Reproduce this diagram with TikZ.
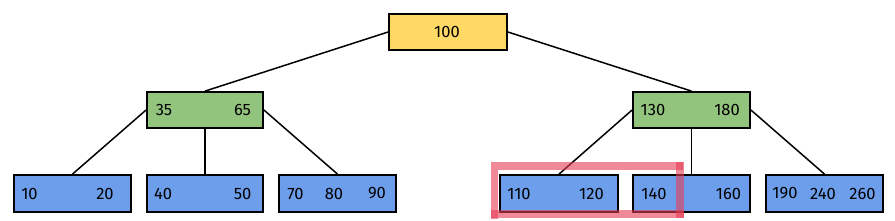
\documentclass[tikz,border=0pt]{standalone}
\usepackage{fontspec}
\setmainfont{Fira Sans}
\begin{document}
\begin{tikzpicture}[x=1pt,y=-1pt,
  box/.style={draw=black,line width=1.8pt,minimum height=36pt,inner sep=0pt},
  rootbox/.style={box,fill={rgb,255:red,255;green,217;blue,102},minimum width=118pt},
  midbox/.style={box,fill={rgb,255:red,147;green,196;blue,125},minimum width=116pt},
  leafbox/.style={box,fill={rgb,255:red,109;green,158;blue,235},minimum width=117pt,minimum height=37pt},
  num/.style={inner sep=0pt,font=\fontsize{16.5}{18}\selectfont},
  edge/.style={line width=1.5pt,black},
  hl/.style={line width=7.5pt,draw={rgb,255:red,230;green,60;blue,85},opacity=0.6}]
\useasboundingbox (0,0) rectangle (895,220);
% box positions
\node[rootbox] (r) at (448,32) {};
\node[midbox] (gl) at (205,110) {};
\node[midbox,minimum width=117pt] (gr) at (691.5,110) {};
\node[leafbox] (b1) at (72.5,193.5) {};
\node[leafbox,minimum width=116pt] (b2) at (205,193.5) {};
\node[leafbox] (b3) at (337.5,193.5) {};
\node[leafbox,minimum width=118pt] (b4) at (559,193.5) {};
\node[leafbox] (b5) at (691.5,193.5) {};
\node[leafbox] (b6) at (824.5,193.5) {};
% connectors
\draw[edge] (r.west) -- (gl.north);
\draw[edge] (r.east) -- (gr.north);
\draw[edge] (gl.west) -- (b1.north);
\draw[edge] (gl.south) -- (b2.north);
\draw[edge] (gl.east) -- (b3.north);
\draw[edge] (gr.west) -- (b4.north);
\draw[edge] (gr.south) -- (b5.north);
\draw[edge] (gr.east) -- (b6.north);
% redraw boxes on top of connectors
\node[rootbox] at (r) {};
\node[midbox] at (gl) {};
\node[midbox,minimum width=117pt] at (gr) {};
\node[leafbox] at (b1) {};
\node[leafbox,minimum width=116pt] at (b2) {};
\node[leafbox] at (b3) {};
\node[leafbox,minimum width=118pt] at (b4) {};
\node[leafbox] at (b5) {};
\node[leafbox] at (b6) {};
% texts
\node[num] (t100) at (447,32) {100};
\node[num] (t35) at (164,110) {35};
\node[num] (t65) at (242.5,110) {65};
\node[num] (t130) at (653,110) {130};
\node[num] (t180) at (727,110) {180};
\node[num] (t10) at (29.5,193.5) {10};
\node[num] (t20) at (105,193.5) {20};
\node[num] (t40) at (163,193.5) {40};
\node[num] (t50) at (242.5,193.5) {50};
\node[num] (t70) at (295.5,193.5) {70};
\node[num] (t80) at (334,193.5) {80};
\node[num] (t90) at (377,193.5) {90};
\node[num] (t110) at (519,193.5) {110};
\node[num] (t120) at (591.5,193.5) {120};
\node[num] (t140) at (654,193.5) {140};
\node[num] (t160) at (728.5,193.5) {160};
\node[num] (t190) at (785,193.5) {190};
\node[num] (t240) at (823,193.5) {240};
\node[num] (t260) at (862.5,193.5) {260};
% highlight strokes
\draw[hl] (498,166) -- (683,166);
\draw[hl] (494.5,162) -- (494.5,219);
\draw[hl] (680,162) -- (680,218);
\draw[hl] (491,214) -- (684,214);
\end{tikzpicture}
\end{document}
